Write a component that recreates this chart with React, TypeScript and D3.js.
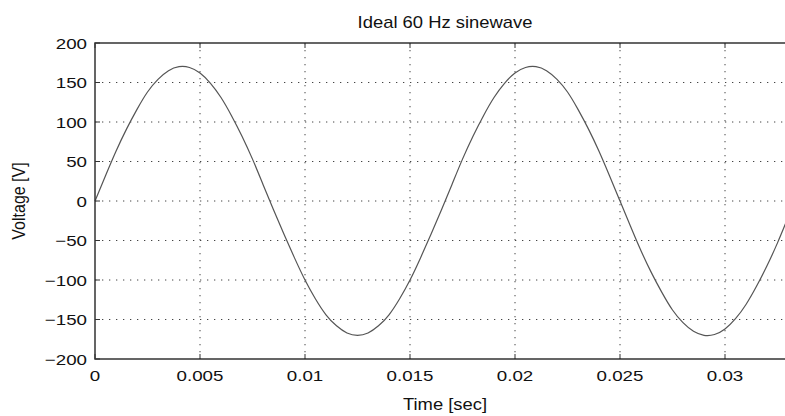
import { useRef, useEffect } from "react";
import * as d3 from "d3";

// sample spacing of the trace, seconds
const sampleStep = 0.0005;

// voltage every 0.5 ms, 0 .. 33 ms
const voltage = [
  0, 32, 63, 91, 116, 138, 154, 165, 170, 169, 162, 149, 131, 108, 82, 53, 21,
  -11, -42, -72, -100, -124, -144, -158, -167, -170, -167, -158, -144, -124,
  -100, -72, -42, -11, 21, 53, 82, 108, 131, 149, 162, 169, 170, 165, 154, 138,
  116, 91, 63, 32, 0, -32, -63, -91, -116, -138, -154, -165, -170, -169, -162,
  -149, -131, -108, -82, -53, -21,
];

const xTicks = [0, 0.005, 0.01, 0.015, 0.02, 0.025, 0.03];
const yTicks = [-200, -150, -100, -50, 0, 50, 100, 150, 200];

const width = 785;
const height = 416;

const SineChart = () => {
  const svgRef = useRef<SVGSVGElement | null>(null);

  useEffect(() => {
    if (!svgRef.current) return;
    const svg = d3.select(svgRef.current);
    svg.selectAll("*").remove();

    const margin = { top: 43, left: 95, bottom: 57 };
    const plotW = 700; // plot runs past the right edge of the picture
    const innerH = height - margin.top - margin.bottom;

    const x = d3.scaleLinear().domain([0, 1 / 30]).range([0, plotW]);
    const y = d3.scaleLinear().domain([-200, 200]).range([innerH, 0]);

    const font = "'Liberation Sans', Arial, Helvetica, sans-serif";
    const sx = 1.25; // picture is stretched sideways

    const g = svg
      .append("g")
      .attr("transform", `translate(${margin.left},${margin.top})`);

    // grid
    g.append("g")
      .selectAll("line")
      .data(xTicks.filter((t) => t > 0))
      .enter()
      .append("line")
      .attr("x1", (d) => x(d))
      .attr("x2", (d) => x(d))
      .attr("y1", 0)
      .attr("y2", innerH)
      .attr("stroke", "#444")
      .attr("stroke-dasharray", "1.3,5.7");

    g.append("g")
      .selectAll("line")
      .data(yTicks.filter((t) => t > -200 && t < 200))
      .enter()
      .append("line")
      .attr("x1", 0)
      .attr("x2", plotW)
      .attr("y1", (d) => y(d))
      .attr("y2", (d) => y(d))
      .attr("stroke", "#444")
      .attr("stroke-dasharray", "1.3,5.7");

    // inward ticks
    const tk = g.append("g").attr("stroke", "#333");
    xTicks.forEach((t) => {
      tk.append("line").attr("x1", x(t)).attr("x2", x(t)).attr("y1", 0).attr("y2", 5);
      tk.append("line").attr("x1", x(t)).attr("x2", x(t)).attr("y1", innerH).attr("y2", innerH - 5);
    });
    yTicks.forEach((t) => {
      tk.append("line").attr("x1", 0).attr("x2", 5).attr("y1", y(t)).attr("y2", y(t));
    });

    // trace
    const line = d3
      .line<number>()
      .x((_, i) => x(i * sampleStep))
      .y((d) => y(d))
      .curve(d3.curveNatural);

    g.append("path")
      .datum(voltage)
      .attr("d", line)
      .attr("fill", "none")
      .attr("stroke", "#555")
      .attr("stroke-width", 1.2);

    // box
    g.append("rect")
      .attr("x", 0)
      .attr("y", 0)
      .attr("width", plotW)
      .attr("height", innerH)
      .attr("fill", "none")
      .attr("stroke", "#333")
      .attr("stroke-width", 1.5);

    // tick labels
    const fmtX = (d: number) => (d === 0 ? "0" : String(+d.toFixed(3)));
    g.append("g")
      .selectAll("text")
      .data(xTicks)
      .enter()
      .append("text")
      .attr("transform", (d) => `translate(${x(d)},${innerH + 22}) scale(${sx},1)`)
      .attr("text-anchor", "middle")
      .attr("font-family", font)
      .attr("font-size", 15)
      .attr("fill", "#111")
      .text(fmtX);

    g.append("g")
      .selectAll("text")
      .data(yTicks)
      .enter()
      .append("text")
      .attr("transform", (d) => `translate(-8,${y(d) + 5.5}) scale(${sx},1)`)
      .attr("text-anchor", "end")
      .attr("font-family", font)
      .attr("font-size", 15)
      .attr("fill", "#111")
      .text((d) => d3.format("d")(d).replace("-", "\u2212"));

    // title and axis labels
    svg
      .append("text")
      .attr("transform", `translate(${margin.left + plotW / 2},28) scale(1.15,1)`)
      .attr("text-anchor", "middle")
      .attr("font-family", font)
      .attr("font-size", 16)
      .attr("fill", "#111")
      .text("Ideal 60 Hz sinewave");

    svg
      .append("text")
      .attr("transform", `translate(${margin.left + plotW / 2},410) scale(1.15,1)`)
      .attr("text-anchor", "middle")
      .attr("font-family", font)
      .attr("font-size", 16)
      .attr("fill", "#111")
      .text("Time [sec]");

    svg
      .append("text")
      .attr("transform", `translate(25,${margin.top + innerH / 2}) rotate(-90) scale(1,1.15)`)
      .attr("text-anchor", "middle")
      .attr("font-family", font)
      .attr("font-size", 16)
      .attr("fill", "#111")
      .text("Voltage [V]");
  }, []);

  return (
    <svg
      ref={svgRef}
      width={width}
      height={height}
      style={{ position: "absolute", left: 0, top: 0, background: "#fff" }}
    ></svg>
  );
};

export default function App() {
  return <SineChart />;
}
